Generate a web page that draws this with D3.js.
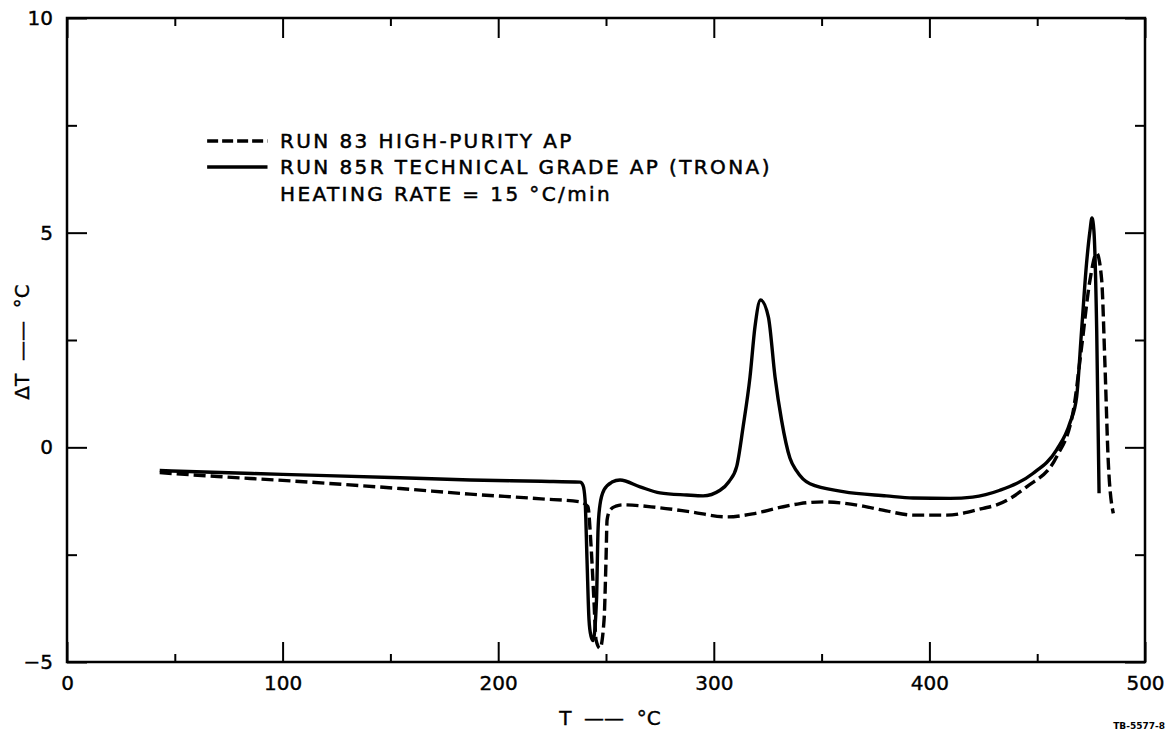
<!DOCTYPE html>
<html>
<head>
<meta charset="utf-8">
<script src="https://cdn.jsdelivr.net/npm/d3@7"></script>
<style>
  body { margin: 0; background: #fff; }
  svg { display: block; }
  .axis text { font-family: "DejaVu Sans", sans-serif; font-size: 20px; fill: #000; stroke: #000; stroke-width: 0.4px; }
  .axis line { stroke: #000; stroke-width: 2; }
  .axis path { display: none; }
  .lbl { font-family: "DejaVu Sans", sans-serif; font-size: 20px; fill: #000; white-space: pre; }
</style>
</head>
<body>
<div id="graphsRoot"></div>
<script>
// Run 83 high-purity AP (dashed)
var run83T  = [43, 70, 100, 154.5, 187, 220, 238, 241.6, 243, 244.4, 245.4, 247.2, 249.1, 250, 250.5, 251.9, 254.6, 257.9, 273.5, 289, 306, 318, 330.7, 340, 350.8, 360, 369.3, 380, 392.5, 408, 425, 431.2, 445.1, 459, 466.8, 470.6, 474.5, 477.6, 479.9, 481.4, 483, 485.3];
var run83dT = [-0.59, -0.68, -0.77, -0.96, -1.09, -1.2, -1.27, -1.38, -2.24, -3.56, -4.49, -4.68, -4.02, -2.63, -1.69, -1.46, -1.37, -1.34, -1.40, -1.5, -1.62, -1.55, -1.40, -1.31, -1.27, -1.30, -1.37, -1.48, -1.58, -1.58, -1.42, -1.34, -0.92, -0.22, 0.87, 2.34, 3.9, 4.52, 3.9, 1.96, -0.37, -1.54];

// Run 85R technical grade AP (solid)
var run85T  = [43, 60, 100, 154.5, 187, 220, 238, 239.3, 240.3, 241.2, 242.1, 243.0, 244.0, 245.6, 246.3, 247.2, 249.1, 252.8, 256.5, 265.8, 275, 287.4, 295, 302.9, 307, 310.6, 313.6, 316.8, 319.1, 321.7, 325.3, 328.4, 331.4, 335.3, 338.4, 344.6, 360, 380, 392.4, 409.6, 420, 432.7, 448, 459, 465.2, 468.3, 470.6, 472.9, 474.5, 475.4, 476.3, 477.6, 478.7];
var run85dT = [-0.54, -0.57, -0.63, -0.71, -0.76, -0.79, -0.81, -0.88, -1.23, -2.63, -4.0, -4.39, -4.5, -3.55, -1.93, -1.34, -0.99, -0.81, -0.76, -0.92, -1.06, -1.11, -1.13, -1.0, -0.8, -0.45, 0.48, 1.64, 2.81, 3.43, 3.04, 1.64, 0.64, -0.25, -0.55, -0.85, -1.03, -1.13, -1.18, -1.19, -1.16, -1.0, -0.61, -0.06, 0.57, 1.18, 2.73, 4.29, 5.05, 5.34, 5.05, 2.73, -1.07];

var xMajor = [0, 100, 200, 300, 400, 500];
var xMinor = [50, 150, 250, 350, 450];
var yMajor = [-5, 0, 5, 10];
var yMinor = [-2.5, 2.5, 7.5];

var legendLines = ["RUN 83 HIGH-PURITY AP", "RUN 85R TECHNICAL GRADE AP (TRONA)", "HEATING RATE = 15 \u00B0C/min"];

var W = 1172, H = 732;
var margin = {top: 18, right: 27, bottom: 70, left: 67};
var width = W - margin.left - margin.right,
    height = H - margin.top - margin.bottom;

var svg = d3.select("#graphsRoot").append("svg").attr("width", W).attr("height", H);
var g = svg.append("g").attr("transform", "translate(" + margin.left + "," + margin.top + ")");

var x = d3.scaleLinear().domain([0, 500]).range([0, width]);
var y = d3.scaleLinear().domain([-5, 10]).range([height, 0]);

// ticks point inward on all four sides
g.append("g").attr("class", "axis").attr("transform", "translate(0," + height + ")")
    .call(d3.axisBottom(x).tickValues(xMajor).tickSizeInner(-20).tickSizeOuter(0).tickPadding(14).tickFormat(d3.format("d")));
g.append("g").attr("class", "axis").attr("transform", "translate(0," + height + ")")
    .call(d3.axisBottom(x).tickValues(xMinor).tickSizeInner(-8).tickSizeOuter(0).tickFormat(""));
g.append("g").attr("class", "axis")
    .call(d3.axisTop(x).tickValues(xMajor).tickSizeInner(-20).tickSizeOuter(0).tickFormat(""));
g.append("g").attr("class", "axis")
    .call(d3.axisTop(x).tickValues(xMinor).tickSizeInner(-8).tickSizeOuter(0).tickFormat(""));
g.append("g").attr("class", "axis")
    .call(d3.axisLeft(y).tickValues(yMajor).tickSizeInner(-20).tickSizeOuter(0).tickPadding(14).tickFormat(d3.format("d")));
g.append("g").attr("class", "axis")
    .call(d3.axisLeft(y).tickValues(yMinor).tickSizeInner(-10).tickSizeOuter(0).tickFormat(""));
g.append("g").attr("class", "axis").attr("transform", "translate(" + width + ",0)")
    .call(d3.axisRight(y).tickValues(yMajor).tickSizeInner(-20).tickSizeOuter(0).tickFormat(""));
g.append("g").attr("class", "axis").attr("transform", "translate(" + width + ",0)")
    .call(d3.axisRight(y).tickValues(yMinor).tickSizeInner(-10).tickSizeOuter(0).tickFormat(""));

// frame
g.append("rect").attr("x", 0).attr("y", 0).attr("width", width).attr("height", height)
    .attr("fill", "none").attr("stroke", "#000").attr("stroke-width", 2.5);

var line = d3.line().curve(d3.curveMonotoneX)
    .x(function(d) { return x(d[0]); })
    .y(function(d) { return y(d[1]); });

var run83 = d3.zip(run83T, run83dT);
var run85 = d3.zip(run85T, run85dT);

g.append("path").datum(run83).attr("d", line)
    .attr("fill", "none").attr("stroke", "#000").attr("stroke-width", 3.4)
    .attr("stroke-dasharray", "12,5");
g.append("path").datum(run85).attr("d", line)
    .attr("fill", "none").attr("stroke", "#000").attr("stroke-width", 3.4)
    .attr("stroke-linejoin", "round");

// legend
var lx0 = margin.left + x(65), lx1 = margin.left + x(93);
svg.append("line").attr("x1", lx0).attr("x2", lx1)
    .attr("y1", 141).attr("y2", 141)
    .attr("stroke", "#000").attr("stroke-width", 3.4).attr("stroke-dasharray", "11,4");
svg.append("line").attr("x1", lx0).attr("x2", lx1)
    .attr("y1", 167).attr("y2", 167)
    .attr("stroke", "#000").attr("stroke-width", 3.4);
legendLines.forEach(function(t, i) {
    svg.append("text").attr("class", "lbl")
        .attr("x", 280).attr("y", 148 + i * 26.3)
        .attr("font-size", 21).attr("letter-spacing", "2.4px")
        .attr("stroke", "#000").attr("stroke-width", 0.5)
        .text(t);
});

// axis titles
svg.append("text").attr("class", "lbl")
    .attr("x", 610).attr("y", 725).attr("text-anchor", "middle")
    .attr("stroke", "#000").attr("stroke-width", 0.4)
    .text("T  \u2014\u2014  \u00B0C");
svg.append("text").attr("class", "lbl")
    .attr("transform", "translate(29,342) rotate(-90)").attr("text-anchor", "middle")
    .attr("stroke", "#000").attr("stroke-width", 0.4)
    .text("\u0394T  \u2014\u2014  \u00B0C");

svg.append("text")
    .attr("x", 1165).attr("y", 729).attr("text-anchor", "end")
    .attr("font-family", "DejaVu Sans, sans-serif").attr("font-size", 9).attr("font-weight", "bold")
    .text("TB-5577-8");
</script>
</body>
</html>
